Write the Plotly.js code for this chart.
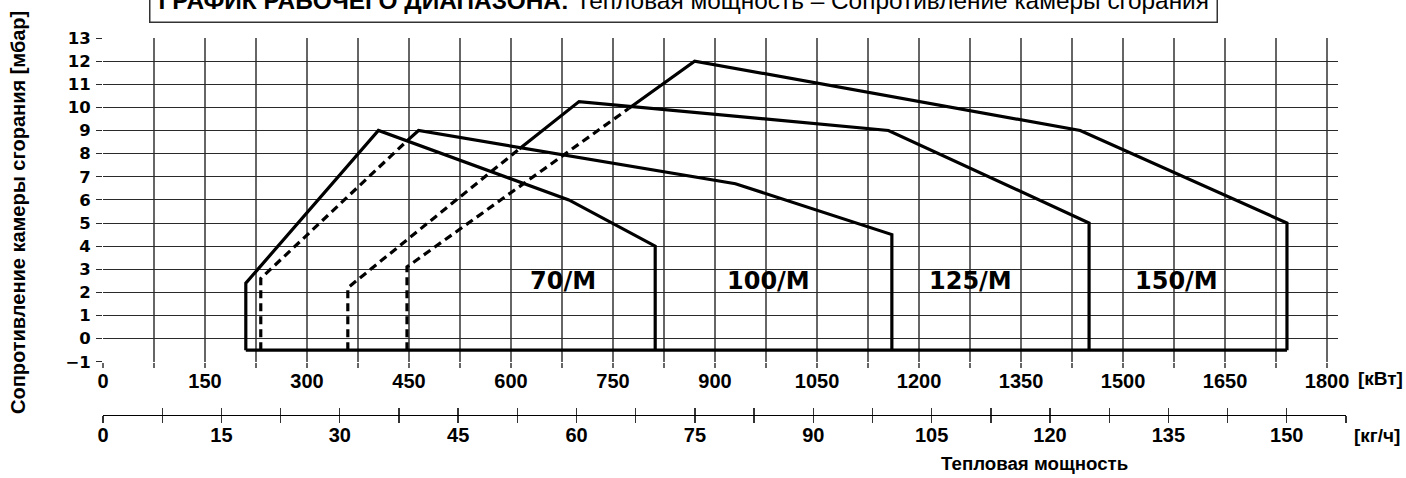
<!DOCTYPE html>
<html>
<head>
<meta charset="utf-8">
<script src="https://cdn.plot.ly/plotly-3.0.1.min.js"></script>
<style>
  html, body { margin: 0; padding: 0; background: #fff; }
  #chart { width: 1406px; height: 478px; }
</style>
</head>
<body>
<div id="chart"></div>
<script>
// ---------------- data (kW vs mbar) ----------------
// 70/M
const m70_kw   = [210, 210, 405, 685, 812, 812];
const m70_mbar = [-0.5, 2.4, 9.0, 6.0, 4.0, -0.5];
// 100/M
const m100_dash_kw   = [232, 232, 447];
const m100_dash_mbar = [-0.5, 2.6, 8.55];
const m100_kw   = [447, 464, 930, 1160, 1160];
const m100_mbar = [8.55, 9.0, 6.7, 4.5, -0.5];
// 125/M
const m125_dash_kw   = [360, 360, 612];
const m125_dash_mbar = [-0.5, 2.2, 8.2];
const m125_kw   = [612, 700, 1155, 1450, 1450];
const m125_mbar = [8.2, 10.25, 9.0, 5.0, -0.5];
// 150/M
const m150_dash_kw   = [447, 447, 773];
const m150_dash_mbar = [-0.5, 3.1, 9.95];
const m150_kw   = [773, 870, 1437, 1741, 1741];
const m150_mbar = [9.95, 12.0, 9.0, 5.0, -0.5];
// common base line
const base_kw   = [210, 1741];
const base_mbar = [-0.5, -0.5];

// model labels
const model_names = ['70/M', '100/M', '125/M', '150/M'];
const model_label_kw = [677, 979, 1275, 1579];
const model_label_mbar = [2.5, 2.5, 2.5, 2.5];

// text
const titleBold = 'ГРАФИК РАБОЧЕГО ДИАПАЗОНА:';
const titleRest = 'Тепловая мощность – Сопротивление камеры сгорания';
const yTitle = 'Сопротивление камеры сгорания [мбар]';
const xTitle = 'Тепловая мощность';
const unitKW = '[кВт]';
const unitKG = '[кг/ч]';

// ---------------- layout geometry ----------------
const W = 1406, H = 478;
const L = 102.7, R = 60.1, T = 37.7, B = 40;
const PW = W - L - R, PH = H - T - B;
const px = x => (x - L) / PW;
const py = y => (H - B - y) / PH;

const VGRID = '#666';
const HGRID = '#2a2a2a';
const LINEW = 3.2;
const DASH = '8px,5px';

function line(x, y, dashed) {
  return {
    type: 'scatter', mode: 'lines', x: x, y: y,
    xaxis: 'x', yaxis: 'y',
    line: { color: '#000', width: LINEW, dash: dashed ? DASH : 'solid' },
    hoverinfo: 'skip', showlegend: false
  };
}

const traces = [
  line(base_kw, base_mbar, false),
  line(m70_kw, m70_mbar, false),
  line(m100_dash_kw, m100_dash_mbar, true),
  line(m100_kw, m100_mbar, false),
  line(m125_dash_kw, m125_dash_mbar, true),
  line(m125_kw, m125_mbar, false),
  line(m150_dash_kw, m150_dash_mbar, true),
  line(m150_kw, m150_mbar, false),
  { type: 'scatter', mode: 'markers', x: [0], y: [-50], xaxis: 'x2', yaxis: 'y2',
    marker: { opacity: 0 }, hoverinfo: 'skip', showlegend: false },
  { type: 'scatter', mode: 'markers', x: [0], y: [-50], xaxis: 'x3', yaxis: 'y2',
    marker: { opacity: 0 }, hoverinfo: 'skip', showlegend: false }
];

const xTickFont = { family: 'Liberation Sans, Arial, sans-serif', size: 20, color: '#000', weight: 'bold' };

const annotations = [
  {
    xref: 'paper', yref: 'paper', x: px(683), y: py(22.5),
    xanchor: 'center', yanchor: 'bottom',
    text: '<b>' + titleBold + '</b> ' + titleRest,
    showarrow: false,
    font: { family: 'Liberation Sans, Arial, sans-serif', size: 24.4, color: '#000' },
    bordercolor: '#333', borderwidth: 1.5, borderpad: 8, bgcolor: '#fff'
  },
  {
    xref: 'paper', yref: 'paper', x: px(17), y: py(212.5),
    xanchor: 'center', yanchor: 'middle', textangle: -90,
    text: yTitle, showarrow: false,
    font: { family: 'Liberation Sans, Arial, sans-serif', size: 20, color: '#000', weight: 'bold' }
  },
  {
    xref: 'paper', yref: 'paper', x: px(1380), y: py(378),
    xanchor: 'center', yanchor: 'middle', text: unitKW, showarrow: false,
    font: { family: 'Liberation Sans, Arial, sans-serif', size: 19, color: '#000', weight: 'bold' }
  },
  {
    xref: 'paper', yref: 'paper', x: px(1377), y: py(435),
    xanchor: 'center', yanchor: 'middle', text: unitKG, showarrow: false,
    font: { family: 'Liberation Sans, Arial, sans-serif', size: 19, color: '#000', weight: 'bold' }
  },
  {
    xref: 'paper', yref: 'paper', x: px(1034), y: py(464),
    xanchor: 'center', yanchor: 'middle', text: xTitle, showarrow: false,
    font: { family: 'Liberation Sans, Arial, sans-serif', size: 18.7, color: '#000', weight: 'bold' }
  }
];
model_names.forEach((n, i) => {
  annotations.push({
    xref: 'x', yref: 'y', x: model_label_kw[i], y: model_label_mbar[i],
    xanchor: 'center', yanchor: 'middle', text: n, showarrow: false,
    font: { family: 'DejaVu Sans, sans-serif', size: 24, color: '#000', weight: 'bold' }
  });
});

const layout = {
  width: W, height: H,
  margin: { l: L, r: R, t: T, b: B, pad: 0 },
  paper_bgcolor: '#fff', plot_bgcolor: 'rgba(0,0,0,0)',
  showlegend: false,
  xaxis: {
    domain: [0, px(1337.6)],
    range: [0, 1815.6],
    anchor: 'y',
    tick0: 0, dtick: 150,
    showgrid: true, gridcolor: VGRID, gridwidth: 1.4,
    ticks: 'outside', ticklen: 5, tickcolor: VGRID, tickwidth: 1.4,
    minor: { dtick: 75, showgrid: true, gridcolor: VGRID, gridwidth: 1.4,
             ticks: 'outside', ticklen: 5, tickcolor: VGRID, tickwidth: 1.4 },
    zeroline: false, showline: false,
    tickfont: xTickFont,
    ticklabelstandoff: -4,
    fixedrange: true
  },
  yaxis: {
    domain: [py(361.7), 1],
    range: [-1, 13],
    anchor: 'x',
    tick0: 0, dtick: 1,
    showgrid: true, gridcolor: HGRID, gridwidth: 1,
    ticks: 'outside', ticklen: 6, tickcolor: HGRID, tickwidth: 1,
    zeroline: false, showline: false,
    tickfont: { family: 'DejaVu Sans, sans-serif', size: 16.5, color: '#000', weight: 'bold' },
    ticklabelstandoff: 2,
    fixedrange: true
  },
  yaxis2: {
    domain: [py(415), py(400)],
    range: [0, 1],
    anchor: 'x2',
    visible: false, showgrid: false, zeroline: false,
    fixedrange: true
  },
  xaxis2: {
    domain: [0, 1],
    range: [0, 157.5],
    anchor: 'y2',
    tick0: 0, dtick: 15,
    showgrid: false, zeroline: false,
    showline: true, linecolor: '#000', linewidth: 1.3,
    ticks: 'outside', ticklen: 7, tickcolor: '#333', tickwidth: 1.3,
    minor: { dtick: 7.5, ticks: 'outside', ticklen: 7, tickcolor: '#333', tickwidth: 1.3, showgrid: false },
    tickfont: xTickFont,
    ticklabelstandoff: -5,
    fixedrange: true
  },
  xaxis3: {
    domain: [0, 1],
    range: [0, 157.5],
    anchor: 'y2',
    overlaying: 'x2',
    tick0: 0, dtick: 7.5,
    showgrid: false, zeroline: false, showline: false,
    ticks: 'inside', ticklen: 7, tickcolor: '#333', tickwidth: 1.3,
    showticklabels: false,
    fixedrange: true
  },
  annotations: annotations
};

Plotly.newPlot('chart', traces, layout, { staticPlot: true, displayModeBar: false });
</script>
</body>
</html>
